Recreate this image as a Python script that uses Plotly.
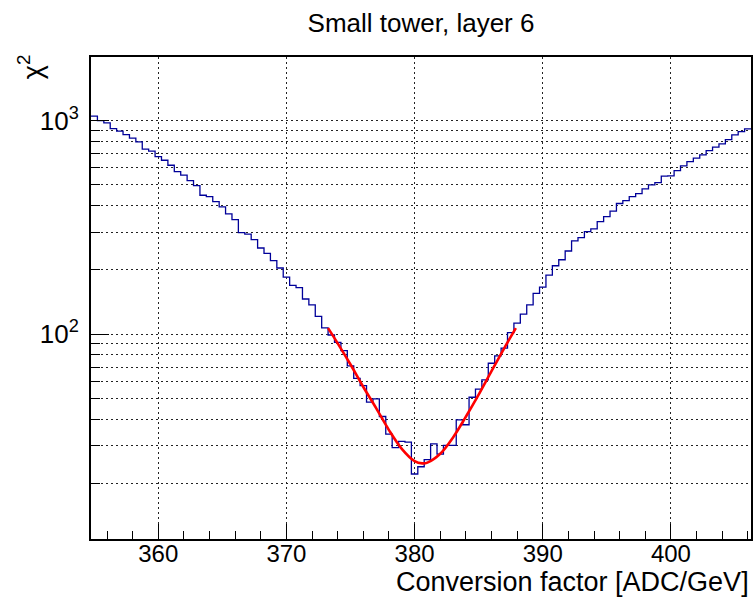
import plotly.graph_objects as go

# ---- data ----
bin_first_center = 355.0
bin_width = 0.5
chi2_values = [
    1049, 1000, 975, 917, 892, 860, 827, 795, 735, 719,
    678, 652, 618, 577, 555, 523, 496, 447, 440, 417,
    394, 366, 344, 299, 294, 277, 253, 239, 221, 204,
    185, 169, 165, 146, 137, 121, 107, 99, 91.5, 83.7,
    71, 62, 57.4, 48, 49.7, 41.1, 34, 29.4, 31.4, 31.2,
    22.1, 23.9, 25.8, 30.6, 27.4, 30.1, 30.1, 39.6, 37.6, 50.6,
    55.2, 61, 73, 79, 86, 101.6, 112.5, 124, 137, 155,
    166, 189, 209, 223, 245, 273, 283, 302, 311, 336,
    355, 377, 409, 422, 440, 455, 479, 500, 512, 549,
    551, 583, 614, 643, 667, 691, 724, 751, 778, 815,
    857, 888, 914,
]
fit_x = [373.25, 374, 375, 376, 377, 378, 379, 380, 380.6, 381, 382, 383, 384, 385, 386, 387, 387.9]
fit_y = [106.6, 90.5, 72.0, 56.5, 45.0, 35.5, 29.0, 25.4, 24.8, 25.0, 27.5, 32.8, 41.0, 52.0, 67.0, 86.0, 106.6]

x_tick_vals = [360, 370, 380, 390, 400]
y_major_vals = [100, 1000]
y_major_text = ["10<sup>2</sup>", "10<sup>3</sup>"]
y_minor_vals = [20, 30, 40, 50, 60, 70, 80, 90, 200, 300, 400, 500, 600, 700, 800, 900]

title_text = "Small tower, layer 6"
x_title = "Conversion factor [ADC/GeV]"
y_title = "χ<sup>2</sup>"

# ---- build step outline from bin edges ----
n = len(chi2_values)
edges = [bin_first_center - bin_width / 2 + bin_width * i for i in range(n + 1)]
step_y = chi2_values + [chi2_values[-1]]

FONT = "Liberation Sans, Arial, Helvetica, sans-serif"
GRID_DASH = "2px,3px"
GRID_COLOR = "#222222"

fig = go.Figure()
fig.add_trace(go.Scatter(
    x=edges, y=step_y, mode="lines", line=dict(shape="hv", color="#000099", width=1.3),
    showlegend=False, hoverinfo="skip",
))
fig.add_trace(go.Scatter(
    x=fit_x, y=fit_y, mode="lines", line=dict(shape="spline", color="#ff0000", width=2.6),
    showlegend=False, hoverinfo="skip",
))

fig.update_layout(
    width=755, height=603,
    margin=dict(l=91, r=2, t=57, b=64),
    paper_bgcolor="white", plot_bgcolor="white",
    font=dict(family=FONT, color="black", size=22),
    title=dict(text=title_text, x=0.5, xref="paper", xanchor="center",
               y=1 - 23 / 603, yref="container", yanchor="middle",
               font=dict(family=FONT, size=26, color="black")),
)

fig.update_xaxes(
    range=[edges[0], edges[-1]],
    tickmode="array", tickvals=x_tick_vals,
    ticks="inside", ticklen=15, tickwidth=1, tickcolor="black",
    showgrid=True, gridcolor=GRID_COLOR, griddash=GRID_DASH, gridwidth=1,
    minor=dict(dtick=2, tick0=360, ticks="inside", ticklen=8, tickcolor="black", showgrid=False),
    showline=True, linecolor="black", linewidth=2, mirror=True,
    zeroline=False, tickfont=dict(size=24, family=FONT),
    ticklabelstandoff=-8,
)
fig.update_yaxes(
    type="log", range=[1.04, 3.298],
    tickmode="array", tickvals=y_major_vals, ticktext=y_major_text,
    ticks="inside", ticklen=18, tickwidth=1, tickcolor="black",
    showgrid=True, gridcolor=GRID_COLOR, griddash=GRID_DASH, gridwidth=1,
    minor=dict(tickmode="array", tickvals=y_minor_vals, ticks="inside", ticklen=9,
               tickcolor="black", showgrid=True, gridcolor=GRID_COLOR, griddash=GRID_DASH, gridwidth=1),
    showline=True, linecolor="black", linewidth=2, mirror=True,
    zeroline=False, tickfont=dict(size=26, family=FONT),
    ticklabelstandoff=5,
)

fig.add_annotation(text=x_title, xref="paper", yref="paper", x=1.0, y=-43 / 482,
                   xanchor="right", yanchor="middle", showarrow=False,
                   font=dict(size=27, family=FONT, color="black"))
fig.add_annotation(text=y_title, xref="paper", yref="paper", x=(30 - 91) / 663, y=1 - 10 / 482,
                   xanchor="center", yanchor="middle", showarrow=False, textangle=-90,
                   font=dict(size=27, family=FONT, color="black"))

fig.write_html("out.html")
